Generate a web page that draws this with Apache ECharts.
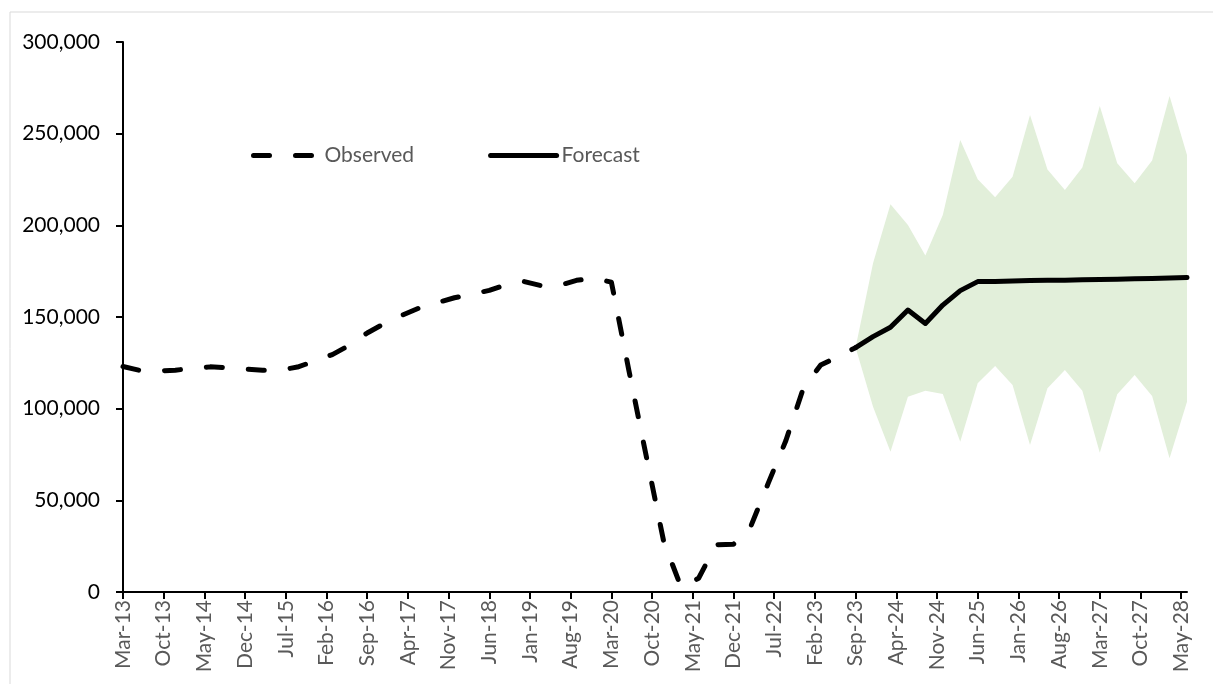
<!DOCTYPE html>
<html>
<head>
<meta charset="utf-8">
<script src="https://cdn.jsdelivr.net/npm/echarts@6/dist/echarts.min.js"></script>
<style>
  html, body { margin: 0; padding: 0; background: #fff; }
  #myChart { width: 1213px; height: 684px; }
</style>
</head>
<body>
<div id="myChart"></div>
<script>
// quarterly observation dates and values
const observedDates = ['Mar-13', 'Jun-13', 'Sep-13', 'Dec-13', 'Mar-14', 'Jun-14', 'Sep-14', 'Dec-14',
  'Mar-15', 'Jun-15', 'Sep-15', 'Dec-15', 'Mar-16', 'Jun-16', 'Sep-16', 'Dec-16',
  'Mar-17', 'Jun-17', 'Sep-17', 'Dec-17', 'Mar-18', 'Jun-18', 'Sep-18', 'Dec-18',
  'Mar-19', 'Jun-19', 'Sep-19', 'Dec-19', 'Mar-20', 'Jun-20', 'Sep-20', 'Dec-20',
  'Mar-21', 'Jun-21', 'Sep-21', 'Dec-21', 'Mar-22', 'Jun-22', 'Sep-22', 'Dec-22',
  'Mar-23', 'Jun-23', 'Sep-23']
const observed = [123000, 120800, 120500, 121000, 122000, 122800, 122300, 121600,
  121000, 121000, 122700, 126000, 129500, 134700, 141300, 146500,
  151000, 155000, 157800, 160500, 162500, 164500, 167800, 169300,
  167000, 167200, 170000, 171200, 169000, 121000, 74000, 27500,
  2500, 7500, 25800, 26000, 36000, 59500, 82500, 111000,
  123800, 128400, 133300]

const forecastDates = ['Sep-23', 'Dec-23', 'Mar-24', 'Jun-24', 'Sep-24', 'Dec-24', 'Mar-25', 'Jun-25',
  'Sep-25', 'Dec-25', 'Mar-26', 'Jun-26', 'Sep-26', 'Dec-26', 'Mar-27', 'Jun-27',
  'Sep-27', 'Dec-27', 'Mar-28', 'Jun-28']
const forecast = [133300, 139300, 144400, 153800, 146500, 156500, 164400, 169300,
  169400, 169600, 169900, 170000, 170100, 170300, 170400, 170600,
  170800, 171000, 171300, 171600]
const lower = [133300, 101000, 76500, 106500, 109800, 108000, 82000, 113800,
  123300, 112900, 80200, 111100, 121100, 109800, 76000, 107800,
  118400, 106900, 72900, 103800]
const upper = [133300, 179300, 211500, 200200, 183500, 205600, 246500, 225100,
  215300, 226500, 260200, 230500, 219300, 231600, 265100, 233800,
  222900, 235300, 270500, 238400]

// monthly axis from Mar-13 to Jun-28
const monthNames = ['Jan', 'Feb', 'Mar', 'Apr', 'May', 'Jun', 'Jul', 'Aug', 'Sep', 'Oct', 'Nov', 'Dec']
const categories = []
for (let y = 2013; y <= 2028; y++) {
  for (let m = 0; m < 12; m++) {
    if (y === 2013 && m < 2) continue
    if (y === 2028 && m > 5) continue
    categories.push(monthNames[m] + '-' + String(y).slice(2))
  }
}

const pairs = (dates, vals) => dates.map((d, i) => [d, vals[i]])

let myChart = echarts.init(document.getElementById('myChart'))
const font = 'Lato, "Open Sans", sans-serif'
myChart.setOption({
  animation: false,
  backgroundColor: '#fff',
  textStyle: { fontFamily: font },
  graphic: [{
    type: 'rect',
    shape: { x: 10, y: 12, width: 1400, height: 900 },
    style: { fill: null, stroke: '#d9d9d9', lineWidth: 1 },
    silent: true
  }],
  grid: {
    left: 123,
    top: 42,
    right: 26,
    bottom: 92,
    outerBoundsMode: 'none'
  },
  legend: {
    data: ['Observed', 'Forecast'],
    left: 246,
    top: 140,
    itemWidth: 66,
    itemHeight: 14,
    itemGap: 74,
    itemStyle: { opacity: 0 },
    lineStyle: { width: 5, cap: 'round' },
    textStyle: { color: '#595959', fontSize: 21, fontFamily: font }
  },
  xAxis: {
    type: 'category',
    data: categories,
    boundaryGap: false,
    axisLine: { lineStyle: { color: '#000', width: 2 } },
    axisTick: { interval: 6, length: 7, lineStyle: { color: '#000', width: 2 } },
    axisLabel: {
      interval: 6,
      rotate: 90,
      margin: 8,
      color: '#595959',
      fontSize: 21,
      fontFamily: font
    },
    splitLine: { show: false }
  },
  yAxis: {
    type: 'value',
    min: 0,
    max: 300000,
    interval: 50000,
    axisLine: { show: true, lineStyle: { color: '#000', width: 2 } },
    axisTick: { show: true, length: 7, lineStyle: { color: '#000', width: 2 } },
    axisLabel: {
      margin: 23,
      color: '#000',
      fontSize: 21,
      fontFamily: font,
      formatter: function (v) { return v.toLocaleString('en-US') }
    },
    splitLine: { show: false }
  },
  series: [
    {
      name: 'lower',
      type: 'line',
      stack: 'band',
      data: pairs(forecastDates, lower),
      symbol: 'none',
      lineStyle: { opacity: 0 },
      silent: true
    },
    {
      name: 'band',
      type: 'line',
      stack: 'band',
      data: pairs(forecastDates, upper.map((u, i) => u - lower[i])),
      symbol: 'none',
      lineStyle: { opacity: 0 },
      areaStyle: { color: '#e2efda', opacity: 1 },
      silent: true
    },
    {
      name: 'Observed',
      type: 'line',
      data: pairs(observedDates, observed),
      symbol: 'none',
      itemStyle: { color: '#000' },
      lineStyle: { color: '#000', width: 5, type: [16, 26], cap: 'round', join: 'round' }
    },
    {
      name: 'Forecast',
      type: 'line',
      data: pairs(forecastDates, forecast),
      symbol: 'none',
      itemStyle: { color: '#000' },
      lineStyle: { color: '#000', width: 5, cap: 'round', join: 'round' }
    }
  ]
})
</script>
</body>
</html>
